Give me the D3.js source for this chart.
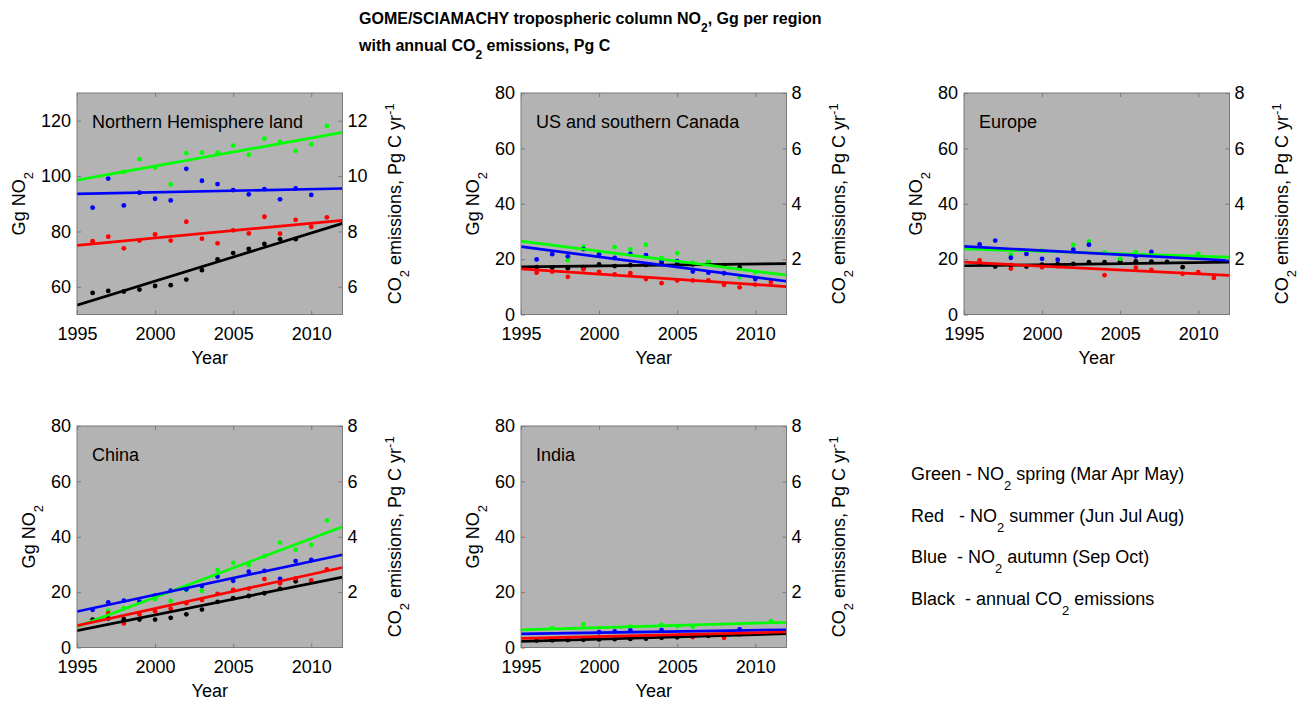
<!DOCTYPE html>
<html><head><meta charset="utf-8">
<script src="https://cdn.jsdelivr.net/npm/d3@7"></script>
<style>
body{margin:0;background:#fff}
text{font-family:"Liberation Sans",Arial,Helvetica,sans-serif;fill:#000}
</style>
</head><body>
<svg id="chart" width="1311" height="702"></svg>
<script>
// ---------------- data ----------------
const years = [1996,1997,1998,1999,2000,2001,2002,2003,2004,2005,2006,2007,2008,2009,2010,2011];
const fitYears = [1995, 2012];
const xTicks = [1995, 2000, 2005, 2010];

const regionNames = ["Northern Hemisphere land", "US and southern Canada", "Europe", "China", "India"];

// NO2 (Gg) per season, CO2 (Pg C / yr)
const nhGreen = [null,null,101.5,106.1,103.1,97.0,108.3,108.5,108.5,111.0,107.7,113.5,112.3,109.1,111.5,118.1];
const nhBlue  = [88.6,99.1,89.4,94.0,91.8,91.2,102.6,98.3,97.1,94.9,93.4,95.3,91.6,95.5,93.2,null];
const nhRed   = [76.5,78.1,73.9,76.7,78.9,76.7,83.5,77.4,75.7,80.4,79.3,85.3,79.2,84.2,81.7,85.1];
const nhBlack = [5.78,5.85,5.83,5.90,6.03,6.06,6.26,6.60,6.99,7.22,7.37,7.55,7.72,7.72,null,null];
const nhFitGreen = [98.5,115.8], nhFitBlue = [93.6,95.5], nhFitRed = [75.0,84.0], nhFitBlack = [5.34,8.29];

const usGreen = [null,null,19.6,24.5,22.0,24.3,23.5,25.2,20.4,22.2,18.6,18.9,null,13.5,15.3,null];
const usBlue  = [19.9,21.8,21.0,23.6,21.7,20.4,21.9,21.4,19.5,19.3,15.5,15.1,14.9,null,12.8,null];
const usRed   = [15.1,15.5,13.6,16.3,15.4,14.5,14.9,12.8,11.3,12.3,12.3,12.3,10.7,9.8,10.8,11.7];
const usBlack = [1.71,1.69,1.67,1.71,1.81,1.75,1.78,1.79,1.87,1.83,1.81,1.87,1.78,1.70,null,null];
const usFitGreen = [26.5,14.2], usFitBlue = [24.5,12.0], usFitRed = [16.5,10.1], usFitBlack = [1.72,1.84];

const euGreen = [null,null,21.6,null,23.1,null,25.2,26.4,22.3,20.1,22.5,null,null,null,21.9,null];
const euBlue  = [25.3,26.7,20.5,21.9,20.1,19.8,23.4,25.2,null,null,21.0,22.6,null,null,null,null];
const euRed   = [19.5,null,16.6,null,17.1,17.4,null,null,14.2,null,16.9,16.1,null,14.7,15.3,13.2];
const euBlack = [1.83,1.73,1.78,1.73,1.80,1.82,1.83,1.89,1.89,1.92,1.92,1.91,1.90,1.71,null,null];
const euFitGreen = [23.7,20.7], euFitBlue = [24.6,19.5], euFitRed = [18.9,14.1], euFitBlack = [1.76,1.89];

const cnGreen = [null,13.3,14.2,16.6,17.5,16.8,20.8,20.5,28.0,30.6,29.8,33.0,37.9,35.3,37.1,45.9];
const cnBlue  = [13.6,16.3,16.9,16.6,18.7,20.5,21.0,22.2,25.6,24.1,27.4,27.7,24.8,31.2,31.6,null];
const cnRed   = [null,12.4,8.7,11.9,13.1,14.0,16.0,17.2,19.4,20.8,21.3,24.7,23.2,25.0,24.2,28.2];
const cnBlack = [1.01,1.05,1.02,1.01,1.01,1.07,1.20,1.37,1.65,1.78,1.86,1.96,2.12,2.39,null,null];
const cnFitGreen = [7.5,43.6], cnFitBlue = [13.0,33.5], cnFitRed = [7.9,28.9], cnFitBlack = [0.61,2.54];

const inGreen = [null,7.0,null,8.4,null,null,7.5,null,8.2,7.8,7.6,null,null,null,null,9.5];
const inBlue  = [null,null,null,null,5.5,5.8,6.2,null,6.3,null,null,null,null,6.5,null,null];
const inRed   = [null,null,null,null,null,null,null,null,null,null,3.8,null,3.5,null,null,null];
const inBlack = [0.25,0.26,0.27,0.28,0.29,0.30,0.31,0.32,0.35,0.37,0.40,0.42,0.45,0.48,null,null];
const inFitGreen = [6.4,9.1], inFitBlue = [4.9,6.4], inFitRed = [3.3,5.6], inFitBlack = [0.22,0.50];

const nhLeftTicks = [60,80,100,120], nhRightTicks = [6,8,10,12];
const stdLeftTicks = [0,20,40,60,80], stdRightTicks = [2,4,6,8];

const legendItems = [
  [{t:"Green - NO"},{t:"2",sub:1},{t:" spring (Mar Apr May)"}],
  [{t:"Red   - NO"},{t:"2",sub:1},{t:" summer (Jun Jul Aug)"}],
  [{t:"Blue  - NO"},{t:"2",sub:1},{t:" autumn (Sep Oct)"}],
  [{t:"Black  - annual CO"},{t:"2",sub:1},{t:" emissions"}]
];

// ---------------- layout ----------------
const panels = [
  {name:regionNames[0], x:77,  y:93,  dom:[50,130], lt:nhLeftTicks, rt:nhRightTicks, g:nhGreen,b:nhBlue,r:nhRed,k:nhBlack, fg:nhFitGreen,fb:nhFitBlue,fr:nhFitRed,fk:nhFitBlack},
  {name:regionNames[1], x:521, y:93,  dom:[0,80], lt:stdLeftTicks, rt:stdRightTicks, g:usGreen,b:usBlue,r:usRed,k:usBlack, fg:usFitGreen,fb:usFitBlue,fr:usFitRed,fk:usFitBlack},
  {name:regionNames[2], x:964, y:93,  dom:[0,80], lt:stdLeftTicks, rt:stdRightTicks, g:euGreen,b:euBlue,r:euRed,k:euBlack, fg:euFitGreen,fb:euFitBlue,fr:euFitRed,fk:euFitBlack},
  {name:regionNames[3], x:77,  y:426, dom:[0,80], lt:stdLeftTicks, rt:stdRightTicks, g:cnGreen,b:cnBlue,r:cnRed,k:cnBlack, fg:cnFitGreen,fb:cnFitBlue,fr:cnFitRed,fk:cnFitBlack},
  {name:regionNames[4], x:521, y:426, dom:[0,80], lt:stdLeftTicks, rt:stdRightTicks, g:inGreen,b:inBlue,r:inRed,k:inBlack, fg:inFitGreen,fb:inFitBlue,fr:inFitRed,fk:inFitBlack}
];
const W = 265.5, H = 221.5;
const FS = 18;
const GRAY_BG = "#b3b3b3", AX = "#7a7a7a";
const COL = {g:"#00ff00", b:"#0000ff", r:"#ff0000", k:"#000000"};

const svg = d3.select("#chart");
svg.append("rect").attr("width",1311).attr("height",702).attr("fill","#fff");

function rich(sel, parts, fs, subFs, shift){
  let cur = 0;
  parts.forEach(p=>{
    const ts = sel.append("tspan").text(p.t);
    let target = p.sub ? shift : (p.sup ? -shift*0.8 : 0);
    ts.attr("dy", target - cur);
    cur = target;
    if (p.sub || p.sup) ts.attr("font-size", subFs);
  });
}

// title
const t1 = svg.append("text").attr("x",359).attr("y",24).attr("font-size",16).attr("font-weight","bold");
rich(t1, [{t:"GOME/SCIAMACHY tropospheric column NO"},{t:"2",sub:1},{t:", Gg per region"}], 16, 12, 8);
const t2 = svg.append("text").attr("x",359).attr("y",51).attr("font-size",16).attr("font-weight","bold");
rich(t2, [{t:"with annual CO"},{t:"2",sub:1},{t:" emissions, Pg C"}], 16, 12, 8);

panels.forEach(p=>{
  const g = svg.append("g");
  const x = d3.scaleLinear().domain([fitYears[0], fitYears[1]]).range([p.x, p.x+W]);
  const yL = d3.scaleLinear().domain(p.dom).range([p.y+H, p.y]);
  const yR = d3.scaleLinear().domain([p.dom[0]/10, p.dom[1]/10]).range([p.y+H, p.y]);

  g.append("rect").attr("x",p.x).attr("y",p.y).attr("width",W).attr("height",H).attr("fill",GRAY_BG);

  const clip = "clip"+p.x+"_"+p.y;
  svg.append("clipPath").attr("id",clip).append("rect").attr("x",p.x).attr("y",p.y).attr("width",W).attr("height",H);
  const plot = g.append("g").attr("clip-path","url(#"+clip+")");

  const series = [
    {v:p.k, f:p.fk, c:COL.k, s:yR},
    {v:p.g, f:p.fg, c:COL.g, s:yL},
    {v:p.b, f:p.fb, c:COL.b, s:yL},
    {v:p.r, f:p.fr, c:COL.r, s:yL}
  ];
  series.forEach(se=>{
    const pts = years.map((yr,i)=>({yr, v:se.v[i]})).filter(d=>d.v!==null);
    plot.selectAll(null).data(pts).enter().append("circle")
      .attr("cx",d=>x(d.yr)).attr("cy",d=>se.s(d.v)).attr("r",2.4).attr("fill",se.c);
  });
  series.forEach(se=>{
    const line = d3.line().x(d=>x(d[0])).y(d=>se.s(d[1]));
    plot.append("path").datum(fitYears.map((yr,i)=>[yr, se.f[i]]))
      .attr("d",line).attr("stroke",se.c).attr("stroke-width",2.7).attr("fill","none");
  });

  // axes with inward ticks
  function styleAxis(a){
    a.select(".domain").remove();
    a.selectAll(".tick line").attr("stroke",AX);
    a.selectAll(".tick text").attr("font-size",FS).attr("font-family","Liberation Sans, Arial, sans-serif").attr("fill","#000");
  }
  const aL = g.append("g").attr("transform",`translate(${p.x},0)`)
    .call(d3.axisLeft(yL).tickValues(p.lt).tickSize(-4).tickPadding(6).tickFormat(d3.format("d")));
  styleAxis(aL);
  const aR = g.append("g").attr("transform",`translate(${p.x+W},0)`)
    .call(d3.axisRight(yR).tickValues(p.rt).tickSize(-4).tickPadding(5).tickFormat(d3.format("d")));
  styleAxis(aR);
  const aB = g.append("g").attr("transform",`translate(0,${p.y+H})`)
    .call(d3.axisBottom(x).tickValues(xTicks).tickSize(-4).tickPadding(13).tickFormat(d3.format("d")));
  styleAxis(aB);
  const aT = g.append("g").attr("transform",`translate(0,${p.y})`)
    .call(d3.axisTop(x).tickValues(xTicks).tickSize(-4).tickFormat(""));
  styleAxis(aT);

  g.append("rect").attr("x",p.x).attr("y",p.y).attr("width",W).attr("height",H)
    .attr("fill","none").attr("stroke",AX).attr("stroke-width",1);

  // region label
  g.append("text").attr("x",p.x+15).attr("y",p.y+35).attr("font-size",FS).text(p.name);

  // x label
  g.append("text").attr("x",p.x+W/2).attr("y",p.y+H+49).attr("text-anchor","middle").attr("font-size",FS).text("Year");

  // left y label
  const digits = d3.max(p.lt, d=>String(d).length);
  const lx = p.x - (digits*10 + 22);
  const ll = g.append("text").attr("transform",`translate(${lx},${p.y+H/2}) rotate(-90)`)
    .attr("text-anchor","middle").attr("font-size",FS);
  rich(ll, [{t:"Gg NO"},{t:"2",sub:1}], FS, 13, 8);

  // right y label
  const rl = g.append("text").attr("transform",`translate(${p.x+W+58},${p.y+H/2}) rotate(-90)`)
    .attr("text-anchor","middle").attr("font-size",FS);
  rich(rl, [{t:"CO"},{t:"2",sub:1},{t:" emissions, Pg C yr"},{t:"-1",sup:1}], FS, 13, 8);
});

// legend
legendItems.forEach((parts,i)=>{
  const t = svg.append("text").attr("x",911).attr("y",480 + i*41.7).attr("font-size",FS)
    .style("white-space","pre");
  rich(t, parts, FS, 13, 10);
});
</script>
</body></html>
